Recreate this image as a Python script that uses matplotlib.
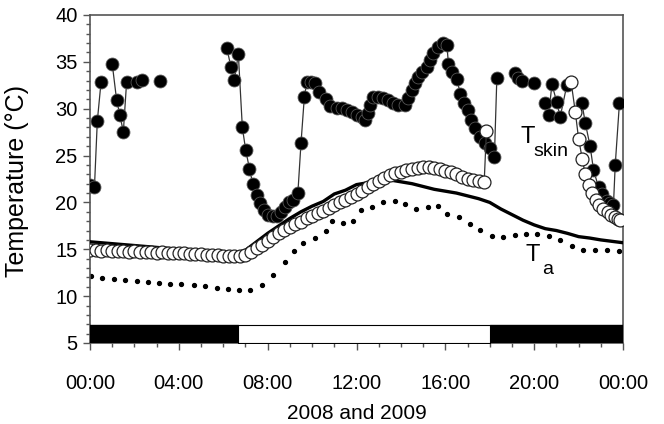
import matplotlib
matplotlib.use("Agg")
import matplotlib.pyplot as plt
import numpy as np
from matplotlib.ticker import MultipleLocator, FuncFormatter

plt.rcParams['font.family'] = ['Liberation Sans', 'DejaVu Sans']

# skin temperature, filled circles (gaps where the signal was lost)
skin1_hours = [
    [0.0, 0.2, 0.33, 0.5],
    [1.0, 1.2, 1.35, 1.5, 1.65],
    [2.1, 2.36],
    [3.15],
    [6.16, 6.35, 6.5, 6.68, 6.86, 7.01, 7.18, 7.33, 7.51, 7.66, 7.85, 8.03,
     8.23, 8.41, 8.6, 8.78, 8.98, 9.16, 9.36, 9.5, 9.65, 9.76, 9.95, 10.14,
     10.33, 10.63, 10.81, 11.11, 11.34, 11.56, 11.79, 12.01, 12.24, 12.39,
     12.54, 12.61, 12.76, 12.99, 13.21, 13.44, 13.66, 13.89, 14.19, 14.32,
     14.49, 14.64, 14.77, 14.94, 15.17, 15.32, 15.46, 15.69, 15.91, 16.07,
     16.14, 16.29, 16.52, 16.67, 16.82, 17.0, 17.15, 17.34, 17.57, 17.79,
     18.02, 18.21, 18.32],
    [19.14, 19.29, 19.45, 19.97],
    [20.5, 20.65, 20.8, 21.02, 21.17, 21.47],
    [22.15, 22.3, 22.52, 22.67, 22.9, 23.05, 23.27, 23.42, 23.57, 23.65, 23.84],
]
skin1_temps = [
    [21.9, 21.6, 28.7, 32.9],
    [34.8, 30.9, 29.3, 27.5, 32.9],
    [32.9, 33.1],
    [33.0],
    [36.5, 34.4, 33.1, 35.8, 28.0, 25.6, 23.6, 22.0, 20.8, 19.9, 19.2, 18.7,
     18.5, 18.6, 19.0, 19.5, 20.0, 20.3, 21.0, 26.3, 31.2, 32.8, 32.9, 32.7,
     31.8, 31.0, 30.3, 30.1, 30.1, 29.9, 29.7, 29.3, 29.1, 28.8,
     29.5, 30.4, 31.3, 31.3, 31.1, 30.9, 30.6, 30.4, 30.4, 31.1,
     32.0, 32.7, 33.4, 33.9, 34.5, 35.2, 35.9, 36.6, 37.0, 36.8,
     34.8, 33.9, 33.2, 31.6, 30.6, 29.9, 28.8, 27.9, 27.0, 26.3,
     25.8, 24.9, 33.3],
    [33.8, 33.3, 33.0, 32.7],
    [30.6, 29.3, 32.6, 30.7, 29.1, 32.5],
    [30.6, 28.5, 26.0, 23.5, 21.6, 20.9, 20.2, 19.9, 19.7, 24.0, 30.6],
]

# skin temperature, open circles
skin2_hours = [
    list(np.arange(0, 18, 0.25)) + [17.85],
    [21.66, 21.85, 22.0, 22.17, 22.3, 22.47, 22.62, 22.77, 22.94, 23.11,
     23.31, 23.48, 23.65, 23.77, 23.87],
]
skin2_temps = [
    [14.9, 14.9, 14.8, 14.9, 14.8, 14.8, 14.8, 14.7, 14.8, 14.7, 14.7, 14.7,
     14.6, 14.7, 14.6, 14.6, 14.6, 14.6, 14.5, 14.5, 14.5, 14.4, 14.4, 14.4,
     14.3, 14.3, 14.3, 14.3, 14.4, 14.7, 15.1, 15.5, 15.9, 16.3, 16.7, 17.1,
     17.4, 17.7, 17.9, 18.3, 18.6, 18.9, 19.1, 19.4, 19.7, 20.0, 20.3, 20.6,
     20.9, 21.2, 21.6, 22.0, 22.3, 22.6, 22.9, 23.1, 23.3, 23.5, 23.6, 23.7,
     23.8, 23.8, 23.7, 23.6, 23.4, 23.2, 23.0, 22.7, 22.5, 22.4, 22.3, 22.2,
     27.6],
    [32.9, 29.7, 26.8, 24.6, 23.0, 21.9, 21.0, 20.3, 19.7, 19.35,
     19.0, 18.7, 18.4, 18.25, 18.1],
]

# ambient temperature, solid line
ta1_hours = np.arange(0, 24.5, 0.5)
ta1_temps = [15.8, 15.7, 15.6, 15.5, 15.4, 15.3, 15.2, 15.1, 15.0, 14.9,
             14.8, 14.7, 14.6, 14.5, 14.9, 15.8, 16.7, 17.5, 18.3, 19.0,
             19.6, 20.1, 20.9, 21.3, 21.9, 22.1, 22.2, 22.4, 22.2, 22.0,
             21.7, 21.4, 21.2, 21.0, 20.7, 20.4, 20.0, 19.3, 18.7, 18.1,
             17.6, 17.2, 17.0, 16.7, 16.35, 16.2, 16.0, 15.85, 15.7]

# ambient temperature, dotted
ta2_hours = [0.05, 0.55, 1.07, 1.58, 2.1, 2.6, 3.1, 3.6, 4.1, 4.7, 5.2, 5.7,
             6.2, 6.7, 7.2, 7.75, 8.26, 8.77, 9.2, 9.61, 10.14, 10.63, 10.9,
             11.41, 11.86, 12.2, 12.7, 13.2, 13.72, 14.2, 14.7, 15.2, 15.65,
             16.07, 16.6, 17.1, 17.58, 18.1, 18.6, 19.14, 19.64, 20.15, 20.65,
             21.17, 21.7, 22.22, 22.75, 23.27, 23.8]
ta2_temps = [12.1, 11.9, 11.8, 11.7, 11.6, 11.5, 11.4, 11.3, 11.3, 11.2, 11.1,
             10.9, 10.8, 10.7, 10.7, 11.2, 12.3, 13.6, 14.8, 15.7, 16.2, 17.0,
             18.0, 17.8, 18.0, 19.2, 19.5, 20.0, 20.1, 19.8, 19.3, 19.5, 19.6,
             18.8, 18.4, 17.7, 17.1, 16.4, 16.3, 16.5, 16.6, 16.6, 16.4,
             15.95, 15.3, 14.95, 14.9, 14.95, 14.85]

lights_on = 6.67
lights_off = 18.0

fig = plt.figure(figsize=(6.64, 4.24), dpi=100)
ax = fig.add_axes([90/664, 81/424, 533/664, 328/424])

ax.plot(ta2_hours, ta2_temps, linestyle='none', marker='o', ms=2.8,
        color='black', zorder=2)
ax.plot(ta1_hours, ta1_temps, color='black', lw=2.4, zorder=3)

for h, t in zip(skin1_hours, skin1_temps):
    ax.plot(h, t, color='#333333', lw=0.9, marker='o', ms=9.3,
            mfc='black', mec='#555555', mew=0.6, zorder=4)
for h, t in zip(skin2_hours, skin2_temps):
    ax.plot(h, t, color='#333333', lw=0.9, marker='o', ms=9.3,
            mfc='white', mec='#222222', mew=0.9, zorder=5)

# light/dark bar
ax.broken_barh([(0, lights_on), (lights_off, 24 - lights_off)], (5, 1.9),
               facecolors='black', edgecolor='black', zorder=6)
ax.broken_barh([(lights_on, lights_off - lights_on)], (5, 1.9),
               facecolors='white', edgecolor='black', lw=0.8, zorder=6)

ax.text(19.73, 27.0, 'T', fontsize=17, ha='center', va='center')
ax.text(20.75, 25.4, 'skin', fontsize=14, ha='center', va='center')
ax.text(19.95, 14.4, 'T', fontsize=17, ha='center', va='center')
ax.text(20.6, 12.8, 'a', fontsize=14, ha='center', va='center')

ax.set_xlim(0, 24)
ax.set_ylim(5, 40)
ax.xaxis.set_major_locator(MultipleLocator(4))
ax.xaxis.set_minor_locator(MultipleLocator(1))
ax.yaxis.set_major_locator(MultipleLocator(5))
ax.yaxis.set_minor_locator(MultipleLocator(1))
ax.xaxis.set_major_formatter(FuncFormatter(lambda v, p: f"{int(v) % 24:02d}:00"))
ax.tick_params(which='major', direction='out', length=5, width=1,
               color='#555555', labelsize=14.5)
ax.tick_params(axis='x', which='major', pad=17)
ax.tick_params(axis='y', which='major', pad=4)
ax.tick_params(which='minor', direction='out', length=3, width=1,
               color='#555555')
for side in ['left', 'bottom', 'top', 'right']:
    ax.spines[side].set_color('#555555')
    ax.spines[side].set_linewidth(1.2)

ax.set_xlabel('2008 and 2009', fontsize=15, labelpad=8)
fig.text(17/664, 1 - 181/424, 'Temperature (°C)', fontsize=18,
         rotation=90, ha='center', va='center')

fig.savefig('out.png', dpi=100)
